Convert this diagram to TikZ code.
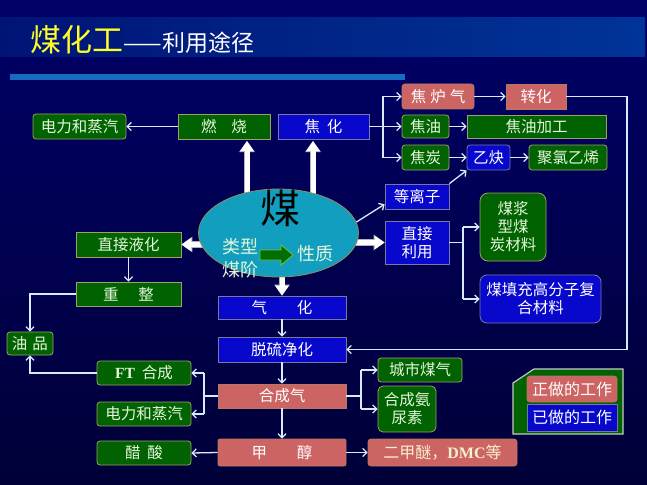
\documentclass[tikz,border=0pt]{standalone}
\usepackage{fontspec}
\setmainfont{Noto Sans CJK SC}
\newfontfamily\tmsfont{Liberation Serif}
\usetikzlibrary{arrows.meta,shapes.geometric,calc}
\definecolor{bgtop}{RGB}{0,0,104}
\definecolor{bgbot}{RGB}{0,0,56}
\definecolor{bandL}{RGB}{0,20,118}
\definecolor{bandR}{RGB}{0,52,152}
\definecolor{rulec}{RGB}{22,108,190}
\definecolor{gfill}{RGB}{0,98,0}
\definecolor{gedge}{RGB}{160,160,100}
\definecolor{bfill}{RGB}{8,8,205}
\definecolor{bedge}{RGB}{120,120,160}
\definecolor{pfill}{RGB}{204,100,100}
\definecolor{pedge}{RGB}{180,120,100}
\definecolor{lncol}{RGB}{215,235,255}
\definecolor{ellfill}{RGB}{18,158,190}
\definecolor{elledge}{RGB}{150,140,90}
\definecolor{pale}{RGB}{228,246,218}
\definecolor{paley}{RGB}{245,240,205}
\definecolor{ttl}{RGB}{255,255,40}
\definecolor{lgedge}{RGB}{200,200,200}
\definecolor{garrow}{RGB}{0,110,0}
\definecolor{garrowedge}{RGB}{120,190,60}
\pgfdeclarelayer{bg}
\pgfsetlayers{bg,main}
\begin{document}
\begin{tikzpicture}[x=1pt,y=-1pt,
  wh/.style 2 args={minimum width=#1pt, minimum height=#2pt},
  box/.style={inner sep=0pt, line width=0.8pt, align=center, font=\fontsize{15.5}{18}\selectfont},
  gbox/.style={box, fill=gfill, draw=gedge, text=pale},
  gro/.style={gbox, rounded corners=3pt},
  bbox/.style={box, fill=bfill, draw=bedge, text=white},
  bro/.style={bbox, rounded corners=3pt},
  pbox/.style={box, fill=pfill, draw=pedge, text=white},
  pro/.style={pbox, rounded corners=3pt},
  conn/.style={draw=lncol, line width=1.3pt, -{Straight Barb[length=4pt,width=8pt]}},
  wire/.style={draw=lncol, line width=1.3pt},
  fat/.style={draw=white, line width=5pt, -{Triangle[length=10pt,width=13pt]},
    preaction={draw=gray!60, line width=6.5pt, -{Triangle[length=11pt,width=15pt]}}},
  elltext/.style={text=pale, font=\fontsize{18}{23}\selectfont, align=center, inner sep=0pt}
]
\useasboundingbox (0,0) rectangle (647,484);

% title area
\begin{pgfonlayer}{bg}
\shade[top color=bgtop, bottom color=bgbot] (0,0) rectangle (647,484);
\shade[left color=bandL, right color=bandR] (0,18) rectangle (645,57);
\fill[rulec] (10,74) rectangle (405,80);
\end{pgfonlayer}
\node[anchor=base west, inner sep=0pt, text=ttl, font=\fontsize{31}{32}\selectfont] (title) at (30,52) {煤化工};
\node[anchor=base west, inner sep=0pt, text=white, font=\fontsize{23}{24}\selectfont] (subtitle) at (title.base east) {——利用途径};

% coordinates for branch lines
\coordinate (bx1) at (383,0);
\coordinate (bx2) at (463,0);
\coordinate (bx3) at (204,0);
\coordinate (bx4) at (361,0);
\coordinate (rx) at (627,0);
\coordinate (fa1) at (247,141);
\coordinate (fa2) at (313,141);

% central ellipse
\node[ellipse, fill=ellfill, draw=elledge, line width=0.8pt, minimum width=160pt, minimum height=88pt, inner sep=0pt] (ell) at (278.5,233) {};
\node[text=black, font=\fontsize{40}{40}\selectfont, inner sep=0pt] (mei) at (280,208) {煤};
\node[elltext] (lx) at (240,258.5) {类型\\煤阶};
\node[elltext] (xz) at (315,254) {性质};
\filldraw[fill=garrow, draw=garrowedge, line width=0.8pt] (260,250) -- (281,250) -- (281,245) -- (293,255) -- (281,265) -- (281,260) -- (260,260) -- cycle;

% top row
\node[gro, wh={93}{25}] (dl1) at (79.5,126.5) {电力和蒸汽};
\node[gbox, wh={92}{25}] (rs) at (224,126.5) {燃\hspace{15pt}烧};
\node[bbox, wh={91}{25}] (jh) at (323.5,126.5) {焦\hspace{7pt}化};
\node[pro, wh={72}{25}] (jlq) at (438,96.5) {焦\hspace{4pt}炉\hspace{4pt}气};
\node[pbox, wh={60}{25}] (zh) at (536,96.5) {转化};
\node[gro, wh={47}{23}] (jy) at (425.5,126.5) {焦油};
\node[gbox, wh={139}{23}] (jyjg) at (536.5,126.5) {焦油加工};
\node[gro, wh={47}{25}] (jt) at (425.5,157.5) {焦炭};
\node[bro, wh={43}{25}] (yq) at (488.5,157.5) {乙炔};
\node[gro, wh={78}{25}] (jlyx) at (568,157.5) {聚氯乙烯};
\node[bbox, wh={64}{25}] (dlz) at (417,196.5) {等离子};
\node[bbox, wh={64}{43}] (zjly) at (417,242.5) {直接\\利用};
\node[gro, rounded corners=8pt, wh={66}{68}] (mj) at (513,227) {煤浆\\型煤\\炭材料};
\node[bro, rounded corners=7pt, wh={121}{48}] (mtc) at (540.5,299) {煤填充高分子复\\合材料};

% left side
\node[gbox, wh={105}{25}] (zyh) at (128.5,244.5) {直接液化};
\node[gbox, wh={105}{24}] (cz) at (128.5,294) {重\hspace{20pt}整};
\node[gro, wh={46}{23}] (yp) at (30,343.5) {油\hspace{5pt}品};
\node[gro, wh={94}{24}] (ft) at (144,373) {{\tmsfont\bfseries FT}\hspace{7pt}合成};
\node[gro, wh={94}{24}] (dl2) at (144,414) {电力和蒸汽};
\node[gro, wh={94}{24}] (cs) at (144,453) {醋\hspace{7pt}酸};

% central column
\node[bbox, wh={128}{23}] (qh) at (282,307.5) {气\hspace{30pt}化};
\node[bbox, wh={128}{25}] (tl) at (282,349.5) {脱硫净化};
\node[pbox, wh={128}{24}] (hcq) at (282,396) {合成气};
\node[pro, rounded corners=2pt, wh={128}{27}] (jc) at (282,452.5) {甲\hspace{30pt}醇};

% right lower
\node[gro, wh={84}{24}] (csmq) at (420,370) {城市煤气};
\node[gro, rounded corners=5pt, wh={58}{46}] (hca) at (407,409) {合成氨\\尿素};
\node[pro, wh={149}{27}, text=paley, font=\fontsize{16}{18}\selectfont] (emd) at (442.5,452.5) {二甲醚，{\tmsfont\bfseries DMC}等};

% legend
\filldraw[fill=gfill, draw=lgedge, line width=1.2pt] (534,369) -- (623,369) -- (623,434) -- (513,434) -- (513,383) -- cycle;
\node[pro, wh={90}{26}, font=\fontsize{16}{18}\selectfont] (zz) at (572,389) {正做的工作};
\node[bbox, wh={90}{27}, font=\fontsize{16}{18}\selectfont] (yz) at (572,417.5) {已做的工作};

% fat arrows from the coal ellipse (behind it)
\begin{pgfonlayer}{bg}
\draw[fat] (fa1 |- ell.center) -- (fa1);
\draw[fat] (fa2 |- ell.center) -- (fa2);
\draw[fat] (zyh.east -| ell.center) -- (zyh.east);
\draw[fat] (zjly.west -| ell.center) -- (zjly.west);
\draw[fat] (ell.center -| qh.north) -- (qh.north);
\end{pgfonlayer}

% connectors
\draw[conn] (rs.west) -- (dl1.east);
\draw[wire] (jh.east) -- (jy.west -| bx1);
\draw[wire] (jlq.west -| bx1) -- (jt.west -| bx1);
\draw[conn] (jlq.west -| bx1) -- (jlq.west);
\draw[conn] (jy.west -| bx1) -- (jy.west);
\draw[conn] (jt.west -| bx1) -- (jt.west);
\draw[conn] (jlq.east) -- (zh.west);
\draw[conn] (jy.east) -- (jyjg.west);
\draw[conn] (jt.east) -- (yq.west);
\draw[conn] (yq.east) -- (jlyx.west);
\draw[conn] (ell.8) -- ($(dlz.south west)!0.2!(dlz.north west)$);
\draw[conn] (dlz.north east) -- (yq.south west);
\draw[wire] (zjly.east) -- (zjly.east -| bx2);
\draw[wire] (mj.west -| bx2) -- (mtc.west -| bx2);
\draw[conn] (mj.west -| bx2) -- (mj.west);
\draw[conn] (mtc.west -| bx2) -- (mtc.west);
\draw[conn] (zh.east) -- (zh.east -| rx) -- (tl.east -| rx) -- (tl.east);
\draw[conn] (zyh.south) -- (cz.north);
\draw[conn] (cz.west) -| (yp.north);
\draw[conn] (ft.west) -| (yp.south);
\draw[conn] (qh.south) -- (tl.north);
\draw[conn] (tl.south) -- (hcq.north);
\draw[conn] (hcq.south) -- (jc.north);
\draw[wire] (hcq.west) -- (hcq.west -| bx3);
\draw[wire] (ft.east -| bx3) -- (dl2.east -| bx3);
\draw[conn] (ft.east -| bx3) -- (ft.east);
\draw[conn] (dl2.east -| bx3) -- (dl2.east);
\draw[wire] (hcq.east) -- (hcq.east -| bx4);
\draw[wire] (csmq.west -| bx4) -- (hca.west -| bx4);
\draw[conn] (csmq.west -| bx4) -- (csmq.west);
\draw[conn] (hca.west -| bx4) -- (hca.west);
\draw[conn] (jc.west) -- (cs.east);
\draw[conn] (jc.east) -- (emd.west);
\end{tikzpicture}
\end{document}
